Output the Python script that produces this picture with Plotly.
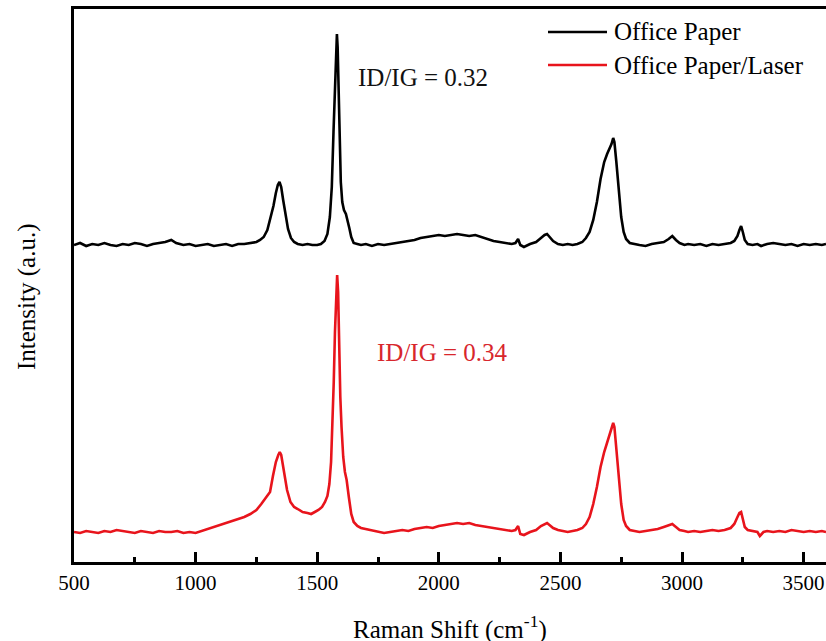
import plotly.graph_objects as go

# Raman shift (cm^-1) and intensity (a.u.)
paper_shift = [500, 525, 550, 575, 600, 625, 650, 675, 700, 725, 750, 775, 800, 825, 850, 875, 900, 920, 950, 975,
               1000, 1025, 1050, 1075, 1100, 1125, 1150, 1175, 1200, 1225, 1250, 1265, 1280, 1295, 1310, 1320, 1330,
               1338, 1345, 1352, 1360, 1370, 1380, 1392, 1405, 1420, 1440, 1460, 1480, 1500, 1515, 1530, 1542, 1552,
               1560, 1567, 1573, 1578, 1581, 1584, 1588, 1592, 1597, 1603, 1610, 1618, 1624, 1632, 1640, 1650, 1665,
               1680, 1700, 1725, 1750, 1775, 1800, 1825, 1850, 1875, 1900, 1925, 1950, 1975, 2000, 2025, 2050, 2075,
               2100, 2125, 2150, 2175, 2200, 2225, 2250, 2275, 2300, 2315, 2326, 2335, 2350, 2375, 2400, 2420, 2435,
               2445, 2455, 2470, 2490, 2510, 2530, 2550, 2570, 2590, 2605, 2620, 2635, 2650, 2665, 2680, 2692, 2702,
               2710, 2717, 2722, 2730, 2740, 2750, 2760, 2770, 2785, 2800, 2825, 2850, 2875, 2900, 2925, 2945, 2960,
               2975, 2990, 3010, 3025, 3050, 3075, 3100, 3125, 3150, 3175, 3200, 3215, 3228, 3236, 3243, 3250, 3258,
               3270, 3290, 3310, 3325, 3350, 3375, 3400, 3425, 3450, 3475, 3500, 3525, 3550, 3575, 3592]
paper_int = [317, 319, 316, 318, 317, 319, 317, 316, 318, 317, 319, 318, 316, 318, 319, 320, 322, 319, 317, 318,
             316, 317, 318, 316, 317, 318, 316, 318, 318, 319, 320, 322, 325, 332, 346, 356, 369,
             377, 380, 375, 362, 347, 333, 324, 320, 318, 317, 318, 317, 317, 318, 321, 328, 345,
             375, 430, 480, 520, 528, 515, 470, 420, 380, 360, 352, 348, 343, 334, 325, 319, 318,
             317, 318, 316, 318, 317, 318, 319, 320, 321, 322, 324, 325, 326, 327, 326, 327, 328,
             327, 326, 327, 325, 323, 321, 320, 319, 318, 319, 323, 317, 315, 318, 320, 324, 327,
             328, 325, 321, 318, 317, 318, 317, 318, 320, 324, 330, 342, 360, 383, 400, 408, 413,
             418, 424, 420, 400, 370, 345, 330, 323, 319, 318, 317, 316, 318, 319, 320, 323, 326,
             322, 319, 317, 318, 317, 318, 316, 318, 317, 318, 319, 321, 326, 332, 336, 330, 322,
             318, 317, 318, 316, 318, 319, 318, 317, 318, 316, 318, 317, 318, 317, 318]

laser_shift = [500, 525, 550, 575, 600, 625, 650, 675, 700, 725, 750, 775, 800, 825, 850, 875, 900, 925, 950, 975,
               1000, 1025, 1050, 1075, 1100, 1125, 1150, 1175, 1200, 1225, 1250, 1270, 1290, 1306, 1318, 1330, 1340,
               1346, 1352, 1360, 1368, 1376, 1390, 1405, 1420, 1440, 1460, 1475, 1490, 1505, 1520, 1532, 1542, 1550,
               1557, 1563, 1568, 1573, 1578, 1582, 1586, 1590, 1595, 1600, 1607, 1614, 1621, 1630, 1640, 1650, 1665,
               1680, 1700, 1725, 1750, 1775, 1800, 1825, 1850, 1875, 1900, 1925, 1950, 1975, 2000, 2025, 2050, 2075,
               2100, 2125, 2150, 2175, 2200, 2225, 2250, 2275, 2300, 2315, 2326, 2335, 2350, 2375, 2400, 2420, 2435,
               2445, 2455, 2470, 2490, 2510, 2530, 2550, 2570, 2590, 2605, 2620, 2635, 2650, 2665, 2680, 2692, 2702,
               2710, 2717, 2722, 2730, 2740, 2750, 2760, 2770, 2785, 2800, 2825, 2850, 2875, 2900, 2925, 2945, 2960,
               2975, 2990, 3010, 3025, 3050, 3075, 3100, 3125, 3150, 3175, 3200, 3215, 3228, 3236, 3243, 3250, 3258,
               3270, 3290, 3310, 3320, 3335, 3350, 3375, 3400, 3425, 3450, 3475, 3500, 3525, 3550, 3575, 3592]
laser_int = [30, 29, 31, 30, 29, 31, 30, 32, 31, 30, 29, 31, 30, 29, 31, 30, 30, 31, 29, 30,
             29, 31, 33, 35, 37, 39, 41, 43, 45, 48, 52, 58, 64, 70, 86, 100, 107,
             110, 107, 96, 84, 72, 60, 55, 53, 50, 49, 48, 50, 52, 55, 60, 66, 78,
             100, 140, 180, 230, 275, 287, 270, 220, 165, 135, 105, 90, 82, 65, 48, 40, 36,
             34, 33, 31, 30, 29, 30, 31, 32, 31, 33, 34, 35, 34, 36, 37, 38, 39,
             38, 39, 37, 36, 35, 34, 33, 32, 31, 32, 36, 28, 27, 30, 32, 36, 38,
             39, 37, 34, 32, 31, 30, 31, 32, 34, 38, 45, 58, 75, 95, 110, 120, 126,
             133, 139, 135, 115, 85, 58, 42, 36, 32, 31, 30, 31, 32, 33, 35, 37, 38,
             35, 32, 31, 30, 31, 30, 31, 32, 31, 32, 34, 38, 45, 49, 50, 42, 35,
             32, 31, 30, 26, 30, 31, 30, 31, 30, 32, 31, 30, 31, 30, 31, 30]

series_names = ["Office Paper", "Office Paper/Laser"]
ratio_labels = ["ID/IG = 0.32", "ID/IG = 0.34"]
x_ticks = [500, 1000, 1500, 2000, 2500, 3000, 3500]

BLACK = "#000000"
RED = "#e8141c"
RED_TEXT = "#d8262c"
FONT = "'Liberation Serif', 'Times New Roman', 'DejaVu Serif', serif"

# plot area in pixels: left 74, right 826, top 9, bottom 562
L, R, T, B = 74, 826, 9, 562
W, H = 826, 641


def px(x):
    return (x - L) / (R - L)


def py(y):
    return (B - y) / (B - T)


fig = go.Figure()
fig.add_trace(go.Scatter(x=paper_shift, y=paper_int, mode="lines", name=series_names[0],
                         line=dict(color=BLACK, width=2.6), showlegend=False))
fig.add_trace(go.Scatter(x=laser_shift, y=laser_int, mode="lines", name=series_names[1],
                         line=dict(color=RED, width=2.6), showlegend=False))

# manual legend
for i, (name, col) in enumerate(zip(series_names, [BLACK, RED])):
    yy = [32, 65][i]
    fig.add_shape(type="line", xref="paper", yref="paper", x0=px(548), x1=px(607), y0=py(yy), y1=py(yy),
                  line=dict(color=col, width=2.5))
    fig.add_annotation(text=name, xref="paper", yref="paper", x=px(612), y=py(yy), xanchor="left",
                       yanchor="middle", showarrow=False, font=dict(family=FONT, size=25, color="#000000"))

# ratio labels
fig.add_annotation(text=ratio_labels[0], xref="paper", yref="paper", x=px(356), y=py(77), xanchor="left",
                   yanchor="middle", showarrow=False, font=dict(family=FONT, size=25, color="#111111"))
fig.add_annotation(text=ratio_labels[1], xref="paper", yref="paper", x=px(375), y=py(352), xanchor="left",
                   yanchor="middle", showarrow=False, font=dict(family=FONT, size=25, color=RED_TEXT))

# axis titles
fig.add_annotation(text="Raman Shift (cm<sup>-1</sup>)", xref="paper", yref="paper", x=px(450), y=py(627),
                   xanchor="center", yanchor="middle", showarrow=False,
                   font=dict(family=FONT, size=25, color="#000000"))
fig.add_annotation(text="Intensity (a.u.)", xref="paper", yref="paper", x=px(27), y=py(297),
                   xanchor="center", yanchor="middle", textangle=-90, showarrow=False,
                   font=dict(family=FONT, size=25, color="#000000"))

fig.update_layout(
    width=W, height=H,
    margin=dict(l=L, r=W - R, t=T, b=H - B),
    paper_bgcolor="white", plot_bgcolor="white",
    font=dict(family=FONT, color="#000000"),
    xaxis=dict(range=[500, 3592], tickvals=x_ticks, ticktext=[str(v) for v in x_ticks],
               ticks="inside", ticklen=10, tickwidth=2.5, tickcolor="#000000",
               showline=True, linewidth=2.8, linecolor="#000000", mirror=True,
               showgrid=False, zeroline=False,
               tickfont=dict(family=FONT, size=21, color="#000000"),
               minor=dict(ticks="inside", ticklen=5, tickwidth=2.5, tickcolor="#000000",
                          dtick=250, tick0=500, showgrid=False)),
    yaxis=dict(range=[0, B - T], showticklabels=False, ticks="",
               showline=True, linewidth=2.8, linecolor="#000000", mirror=False,
               showgrid=False, zeroline=False),
)

fig.write_html("out.html")
